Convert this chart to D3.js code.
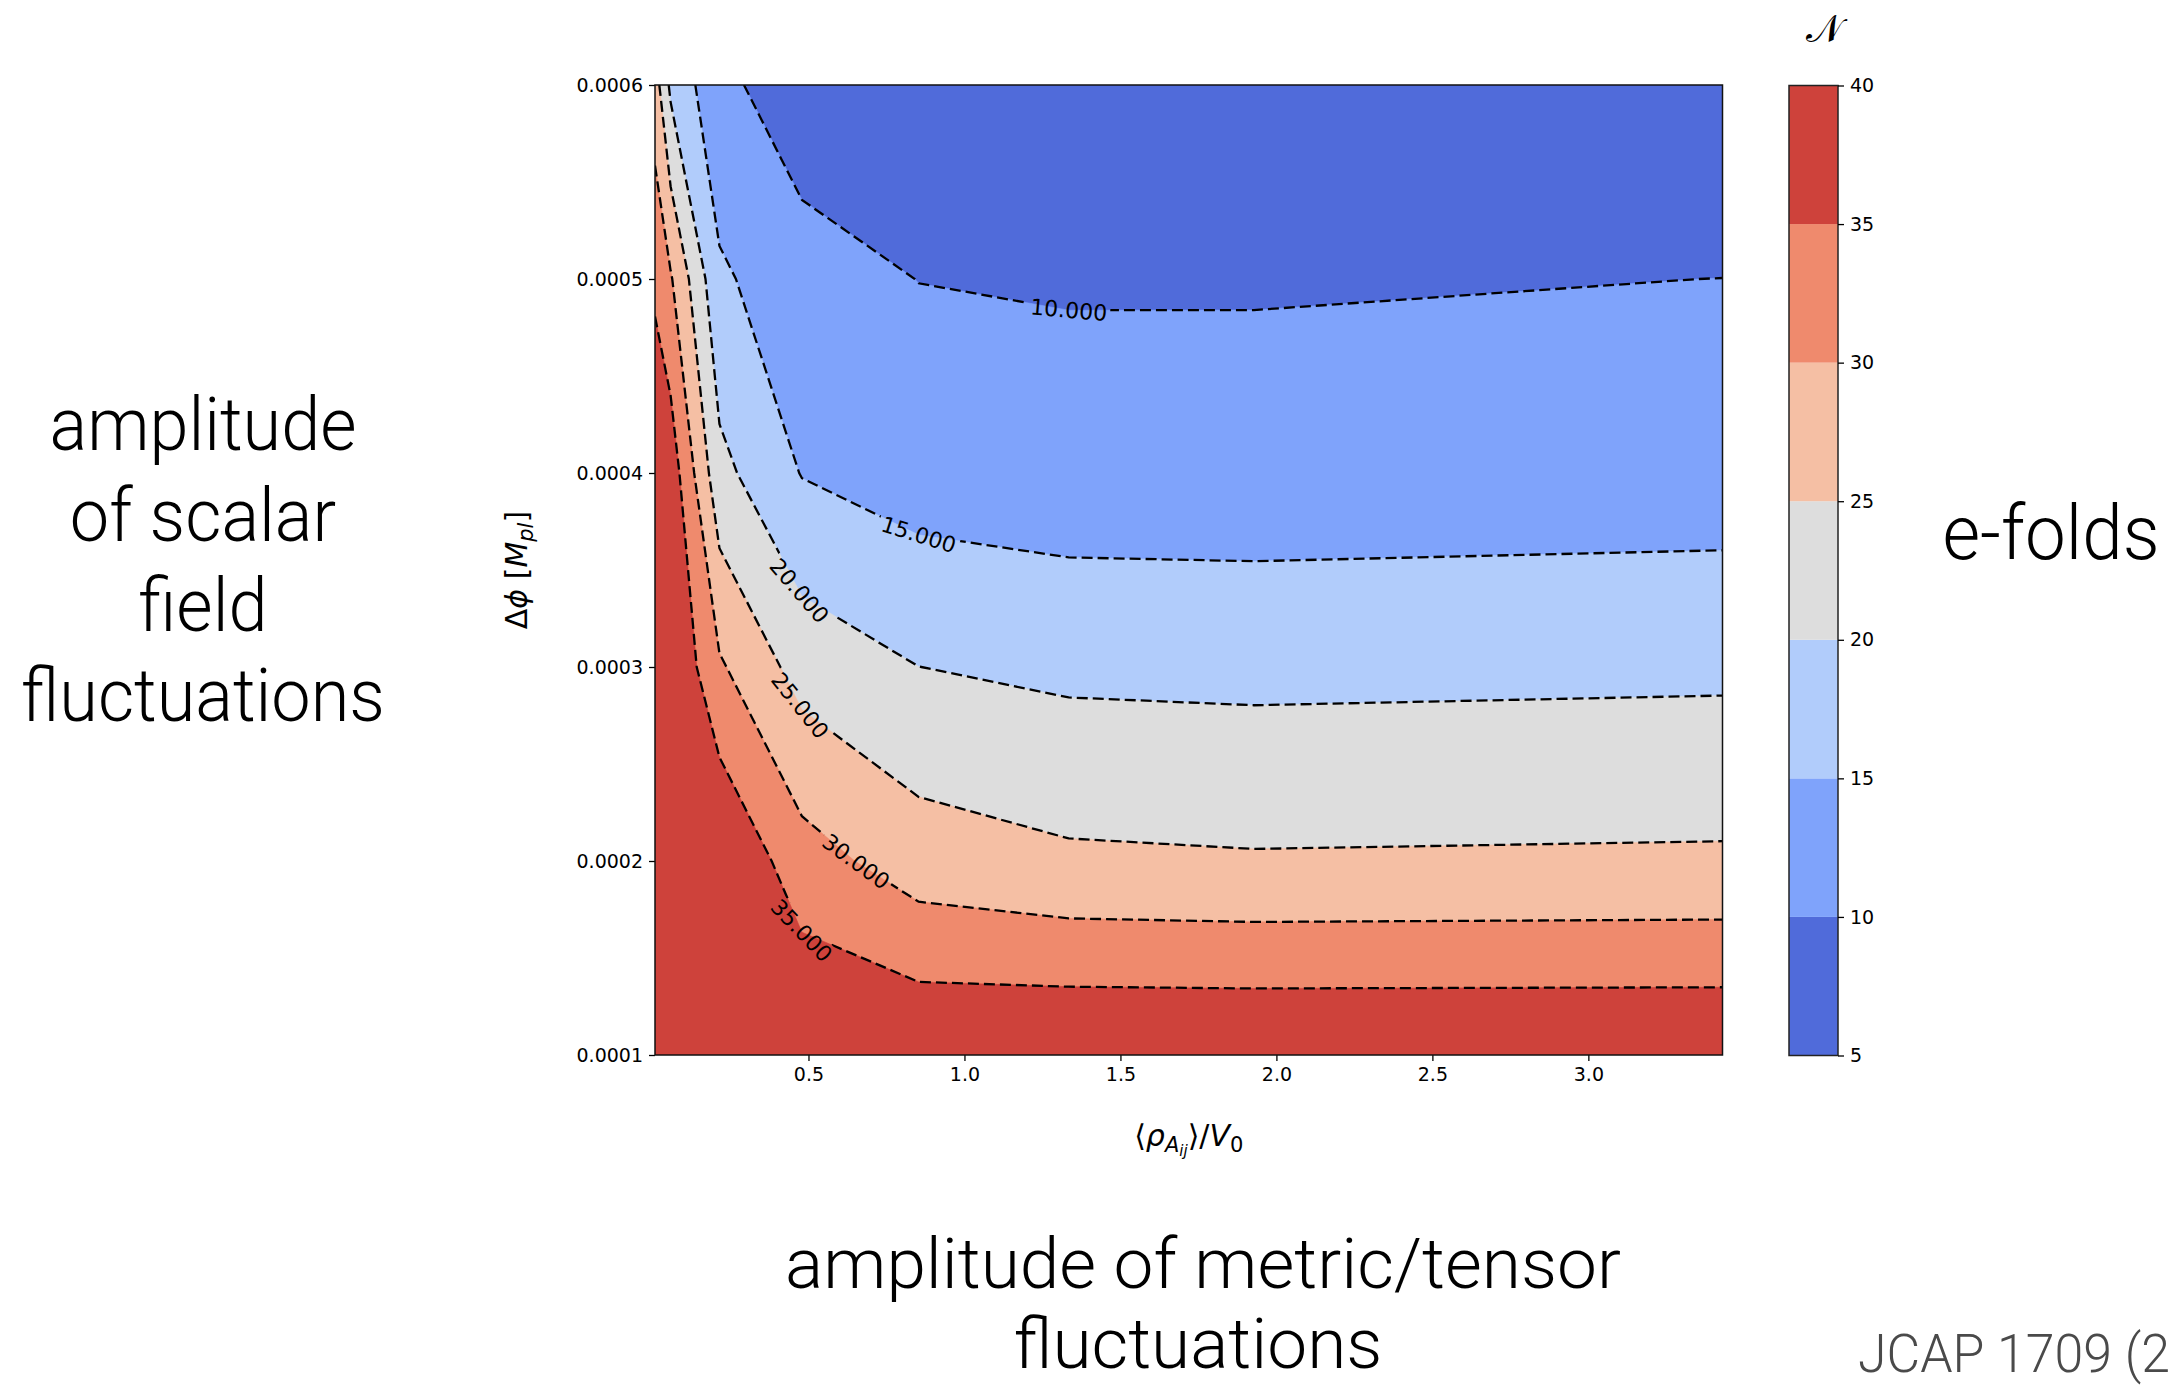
<!DOCTYPE html>
<html>
<head>
<meta charset="utf-8">
<script src="https://cdn.jsdelivr.net/npm/d3@7"></script>
<style>
  html, body { margin: 0; padding: 0; background: #fff; overflow: hidden; }
  svg { display: block; }
</style>
</head>
<body>
<svg id="chart" width="2173" height="1389"></svg>
<script>
// ------------------------------------------------------------------
// DATA
// ------------------------------------------------------------------
// grid of <rho_Aij>/V0 values (x) and Delta phi values in M_pl (y)
const xValues = [0.008, 0.058, 0.2146, 0.479, 0.853, 1.334, 1.928, 3.43];
const yValues = [0.0001, 0.0002, 0.0003, 0.0004, 0.0005, 0.0006];
// number of e-folds N on the grid, one row per y value (bottom -> top)
const nRow1 = [40.0, 40.0, 40.0, 40.0, 39.56, 40.0, 40.0, 40.0];
const nRow2 = [40.0, 40.0, 40.0, 32.1, 27.46, 25.8, 25.42, 25.68];
const nRow3 = [40.0, 40.0, 30.65, 23.0, 20.02, 18.92, 18.67, 19.02];
const nRow4 = [40.0, 38.0, 21.42, 14.78, 12.65, 11.98, 11.94, 12.34];
const nRow5 = [33.8, 30.5, 15.8, 11.79, 9.94, 9.62, 9.63, 10.02];
const nRow6 = [27.3, 19.0, 11.1, 7.4, 7.0, 6.4, 6.0, 6.2];
// contour levels, labelled line levels, tick values
const levels = [5, 10, 15, 20, 25, 30, 35, 40];
const lineLevels = [10, 15, 20, 25, 30, 35];
const xTicks = [0.5, 1.0, 1.5, 2.0, 2.5, 3.0];
const yTicks = [0.0001, 0.0002, 0.0003, 0.0004, 0.0005, 0.0006];
const cbTicks = [5, 10, 15, 20, 25, 30, 35, 40];
// where the contour labels sit (data coordinates, snapped onto the lines)
const labelLevel = [10, 15, 20, 25, 30, 35];
const labelX = [1.334, 0.853, 0.479, 0.484, 0.658, 0.481];
const labelY = [0.0004838, 0.000368, 0.00034, 0.000281, 0.000201, 0.0001643];

// ------------------------------------------------------------------
// STYLE / LAYOUT
// ------------------------------------------------------------------
const bandColors = ['#506bda', '#7fa3fb', '#b1ccfb', '#dddddd', '#f5bfa4', '#ef8a6d', '#ce423b'];
const plot = { left: 655, right: 1722.5, top: 85, bottom: 1055 };
const cb = { left: 1789, right: 1838, top: 85.5, bottom: 1055.5 };
const tickFont = 'DejaVu Sans, Verdana, sans-serif';
const annFont = 'Roboto, "Helvetica Neue", Helvetica, Arial, sans-serif';

const svg = d3.select('#chart');
const defs = svg.append('defs');

const x = d3.scaleLinear().domain(d3.extent(xValues)).range([plot.left, plot.right]);
const y = d3.scaleLinear().domain(d3.extent(yValues)).range([plot.bottom, plot.top]);

const nx = xValues.length, ny = yValues.length;
const grid = [nRow1, nRow2, nRow3, nRow4, nRow5, nRow6].flat();

// map d3-contour grid coordinates to data (piecewise linear on the node arrays)
const clamp = (v, a, b) => Math.max(a, Math.min(b, v));
function nodeLerp(u, nodes) {
  const i = Math.min(Math.floor(u), nodes.length - 2);
  const t = u - i;
  return nodes[i] + t * (nodes[i + 1] - nodes[i]);
}
function mapPoint(p) {
  const u = clamp(p[0] - 0.5, 0, nx - 1);
  const v = clamp(p[1] - 0.5, 0, ny - 1);
  return { u, v, s: [x(nodeLerp(u, xValues)), y(nodeLerp(v, yValues))] };
}

defs.append('clipPath').attr('id', 'plotclip')
  .append('rect')
  .attr('x', plot.left).attr('y', plot.top)
  .attr('width', plot.right - plot.left).attr('height', plot.bottom - plot.top);

// ------------------------------------------------------------------
// FILLED CONTOURS
// ------------------------------------------------------------------
const fills = d3.contours().size([nx, ny]).thresholds(levels.slice(0, -1))(grid);
const gFill = svg.append('g').attr('clip-path', 'url(#plotclip)');
fills.forEach((band, k) => {
  const d = band.coordinates.map(poly => poly.map(ring =>
    'M' + ring.map(p => mapPoint(p).s.map(c => c.toFixed(2)).join(',')).join('L') + 'Z'
  ).join('')).join('');
  gFill.append('path')
    .attr('d', d)
    .attr('fill', bandColors[k])
    .attr('fill-rule', 'evenodd')
    .attr('stroke', bandColors[k])
    .attr('stroke-width', 0.6);
});

// ------------------------------------------------------------------
// CONTOUR LINES (boundary segments removed)
// ------------------------------------------------------------------
function isolines(level) {
  const c = d3.contours().size([nx, ny]).contour(grid, level);
  const lines = [];
  const onEdge = (a, b) =>
    (a.u === 0 && b.u === 0) || (a.u === nx - 1 && b.u === nx - 1) ||
    (a.v === 0 && b.v === 0) || (a.v === ny - 1 && b.v === ny - 1);
  c.coordinates.forEach(poly => poly.forEach(ring => {
    const r = ring.slice();
    const f = r[0], l = r[r.length - 1];
    if (f[0] !== l[0] || f[1] !== l[1]) r.push(f);
    const pts = r.map(mapPoint);
    const n = pts.length - 1;
    const segB = d3.range(n).map(i => onEdge(pts[i], pts[i + 1]));
    if (!segB.some(Boolean)) { lines.push(pts.map(p => p.s)); return; }
    const start = segB.indexOf(true);
    let cur = null;
    for (let k = 1; k <= n; k++) {
      const i = (start + k) % n;
      if (segB[i]) { if (cur) { lines.push(cur); cur = null; } }
      else {
        if (!cur) cur = [pts[i].s];
        cur.push(pts[i + 1].s);
      }
    }
    if (cur) lines.push(cur);
  }));
  return lines;
}

const lineMask = defs.append('mask').attr('id', 'lblmask')
  .attr('maskUnits', 'userSpaceOnUse')
  .attr('x', 0).attr('y', 0).attr('width', 2173).attr('height', 1389);
lineMask.append('rect').attr('x', 0).attr('y', 0).attr('width', 2173).attr('height', 1389).attr('fill', '#fff');

const gLines = svg.append('g').attr('clip-path', 'url(#plotclip)');
const gLinesInner = gLines.append('g').attr('mask', 'url(#lblmask)');
const allLines = {};
lineLevels.forEach(lv => {
  const ls = isolines(lv);
  allLines[lv] = ls;
  ls.forEach(pl => {
    gLinesInner.append('path')
      .attr('d', d3.line()(pl))
      .attr('fill', 'none')
      .attr('stroke', '#000')
      .attr('stroke-width', 2.3)
      .attr('stroke-dasharray', '11,5');
  });
});

// ------------------------------------------------------------------
// CONTOUR LABELS
// ------------------------------------------------------------------
function cumLen(poly) {
  const cum = [0];
  for (let i = 1; i < poly.length; i++)
    cum.push(cum[i - 1] + Math.hypot(poly[i][0] - poly[i - 1][0], poly[i][1] - poly[i - 1][1]));
  return cum;
}
function pointAt(poly, cum, s) {
  s = clamp(s, 0, cum[cum.length - 1]);
  for (let i = 1; i < poly.length; i++) {
    if (cum[i] >= s) {
      const seg = (cum[i] - cum[i - 1]) || 1;
      const t = (s - cum[i - 1]) / seg;
      return [poly[i - 1][0] + t * (poly[i][0] - poly[i - 1][0]), poly[i - 1][1] + t * (poly[i][1] - poly[i - 1][1])];
    }
  }
  return poly[poly.length - 1];
}
const gLabels = svg.append('g');
const fmtLbl = d3.format('.3f');
labelLevel.forEach((lv, k) => {
  const px = x(labelX[k]), py = y(labelY[k]);
  let best = null;
  allLines[lv].forEach(poly => {
    const cum = cumLen(poly);
    for (let i = 0; i < poly.length - 1; i++) {
      const [ax, ay] = poly[i], [bx, by] = poly[i + 1];
      const dx = bx - ax, dy = by - ay, L2 = dx * dx + dy * dy || 1;
      const t = clamp(((px - ax) * dx + (py - ay) * dy) / L2, 0, 1);
      const d = Math.hypot(px - (ax + t * dx), py - (ay + t * dy));
      if (!best || d < best.d) best = { d, poly, cum, s: cum[i] + t * Math.sqrt(L2) };
    }
  });
  if (!best) return;
  const txt = gLabels.append('text')
    .attr('font-family', tickFont)
    .attr('font-size', 22)
    .attr('fill', '#000')
    .attr('text-anchor', 'middle')
    .attr('dominant-baseline', 'central')
    .text(fmtLbl(lv));
  const L = txt.node().getComputedTextLength();
  const c = pointAt(best.poly, best.cum, best.s);
  const a = pointAt(best.poly, best.cum, best.s - L / 2);
  const b = pointAt(best.poly, best.cum, best.s + L / 2);
  let ang = Math.atan2(b[1] - a[1], b[0] - a[0]) * 180 / Math.PI;
  if (ang > 90) ang -= 180;
  if (ang < -90) ang += 180;
  txt.attr('transform', `translate(${c[0]},${c[1]}) rotate(${ang})`);
  lineMask.append('rect')
    .attr('x', -L / 2 - 3).attr('y', -12).attr('width', L + 6).attr('height', 24)
    .attr('fill', '#000')
    .attr('transform', `translate(${c[0]},${c[1]}) rotate(${ang})`);
});

// ------------------------------------------------------------------
// AXES
// ------------------------------------------------------------------
const xAxis = svg.append('g').attr('transform', `translate(0,${plot.bottom})`)
  .call(d3.axisBottom(x).tickValues(xTicks).tickSize(6).tickPadding(7).tickFormat(d3.format('.1f')));
const yAxis = svg.append('g').attr('transform', `translate(${plot.left},0)`)
  .call(d3.axisLeft(y).tickValues(yTicks).tickSize(6).tickPadding(6).tickFormat(d3.format('.4f')));
[xAxis, yAxis].forEach(g => {
  g.select('.domain').remove();
  g.selectAll('.tick line').attr('stroke', '#000').attr('stroke-width', 1.3);
  g.selectAll('.tick text').attr('font-family', tickFont).attr('font-size', 19).attr('fill', '#000');
});

svg.append('rect')
  .attr('x', plot.left).attr('y', plot.top)
  .attr('width', plot.right - plot.left).attr('height', plot.bottom - plot.top)
  .attr('fill', 'none').attr('stroke', '#111').attr('stroke-width', 1.5);

// axis labels (mathtext-like)
const xl = svg.append('text')
  .attr('x', (plot.left + plot.right) / 2).attr('y', 1146)
  .attr('text-anchor', 'middle')
  .attr('font-family', tickFont).attr('font-size', 30).attr('fill', '#000');
xl.append('tspan').text('⟨');
xl.append('tspan').attr('font-style', 'italic').text('ρ');
xl.append('tspan').attr('font-style', 'italic').attr('font-size', 21).attr('dy', 6).text('A');
xl.append('tspan').attr('font-style', 'italic').attr('font-size', 15).attr('dy', 4).text('ij');
xl.append('tspan').attr('dy', -10).text('⟩/');
xl.append('tspan').attr('font-style', 'italic').text('V');
xl.append('tspan').attr('font-size', 21).attr('dy', 6).text('0');

const yl = svg.append('text')
  .attr('transform', `translate(527,${(plot.top + plot.bottom) / 2}) rotate(-90)`)
  .attr('text-anchor', 'middle')
  .attr('font-family', tickFont).attr('font-size', 30).attr('fill', '#000');
yl.append('tspan').text('Δ');
yl.append('tspan').attr('font-style', 'italic').text('ϕ');
yl.append('tspan').text(' [');
yl.append('tspan').attr('font-style', 'italic').text('M');
yl.append('tspan').attr('font-style', 'italic').attr('font-size', 21).attr('dy', 6).text('pl');
yl.append('tspan').attr('dy', -6).text(']');

// ------------------------------------------------------------------
// COLORBAR
// ------------------------------------------------------------------
const cbY = d3.scaleLinear().domain([levels[0], levels[levels.length - 1]]).range([cb.bottom, cb.top]);
const gCb = svg.append('g');
d3.range(levels.length - 1).forEach(k => {
  gCb.append('rect')
    .attr('x', cb.left).attr('width', cb.right - cb.left)
    .attr('y', cbY(levels[k + 1])).attr('height', cbY(levels[k]) - cbY(levels[k + 1]))
    .attr('fill', bandColors[k]);
});
gCb.append('rect')
  .attr('x', cb.left).attr('y', cb.top)
  .attr('width', cb.right - cb.left).attr('height', cb.bottom - cb.top)
  .attr('fill', 'none').attr('stroke', '#222').attr('stroke-width', 1.5);
const cbAxis = svg.append('g').attr('transform', `translate(${cb.right},0)`)
  .call(d3.axisRight(cbY).tickValues(cbTicks).tickSize(6).tickPadding(6).tickFormat(d3.format('d')));
cbAxis.select('.domain').remove();
cbAxis.selectAll('.tick line').attr('stroke', '#000').attr('stroke-width', 1.3);
cbAxis.selectAll('.tick text').attr('font-family', tickFont).attr('font-size', 19).attr('fill', '#000');

svg.append('text')
  .attr('x', 1824).attr('y', 42)
  .attr('text-anchor', 'middle')
  .attr('font-family', '"DejaVu Serif", "DejaVu Sans", serif')
  .attr('font-size', 38).attr('fill', '#000')
  .text('𝒩');

// ------------------------------------------------------------------
// ANNOTATIONS (light sans, sized to the source widths)
// ------------------------------------------------------------------
function fitBlock(lines, refIndex, targetWidth, base, sx) {
  const sel = lines.map(l => svg.append('text')
    .attr('transform', `translate(${l.x},${l.y}) scale(${sx},1)`)
    .attr('text-anchor', l.anchor || 'middle')
    .attr('font-family', annFont).attr('font-weight', 300)
    .attr('font-size', base).attr('fill', l.color || '#000')
    .text(l.t));
  const w = sel[refIndex].node().getComputedTextLength();
  const size = base * targetWidth / (w * sx);
  sel.forEach(s => s.attr('font-size', size));
  return sel;
}
fitBlock([
  { t: 'amplitude', x: 203, y: 450 },
  { t: 'of scalar', x: 203, y: 541 },
  { t: 'field', x: 203, y: 631 },
  { t: 'fluctuations', x: 203, y: 721 }
], 3, 364, 70, 0.95);
fitBlock([{ t: 'e-folds', x: 2051, y: 559 }], 0, 217, 70, 0.95);
fitBlock([
  { t: 'amplitude of metric/tensor', x: 1203, y: 1288 },
  { t: 'fluctuations', x: 1198, y: 1368 }
], 0, 836, 70, 1);

// citation, as far as it is visible at the right edge of the source
const jc = svg.append('text')
  .attr('transform', `translate(1858,1372) scale(0.95,1)`)
  .attr('font-family', annFont).attr('font-weight', 300)
  .attr('font-size', 51).attr('fill', '#4a4a4a')
  .text('JCAP 1709 (2');
const jw = jc.node().getComputedTextLength();
jc.attr('font-size', 51 * 312 / (jw * 0.95));
</script>
</body>
</html>
